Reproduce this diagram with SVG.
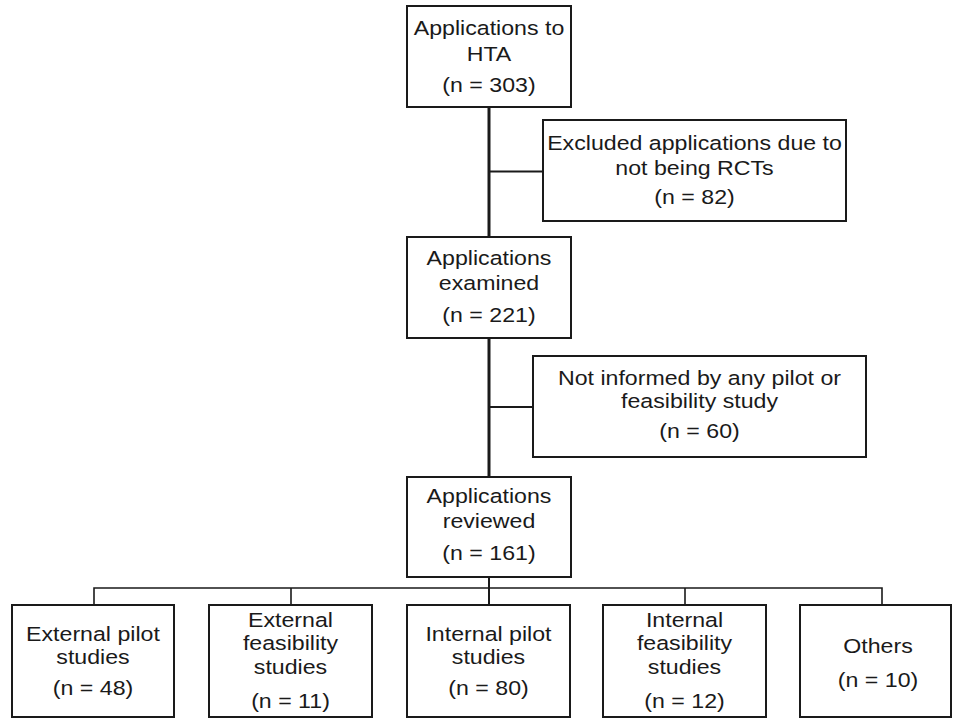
<svg xmlns="http://www.w3.org/2000/svg" width="953" height="719" viewBox="0 0 953 719">
<style>
.box{fill:#fff;stroke:#1a1a1a;stroke-width:2}
.t{font-family:"Liberation Sans",Arial,sans-serif;font-size:20.5px;fill:#1a1a1a;text-anchor:middle}
.main{stroke:#1a1a1a;stroke-width:3;fill:none}
.br{stroke:#1a1a1a;stroke-width:2;fill:none}
.bus{stroke:#1a1a1a;stroke-width:1.6;fill:none}
</style>
<rect width="953" height="719" fill="#fff"/>
<g id="connectors">
<path class="main" d="M489 107V237M489 338V477"/>
<path class="br" d="M489 171.5H543M489 407H533M489 577V605"/>
<path class="bus" d="M94 605V588H882V605M291 588V605M685 588V605"/>
</g>
<g id="n1">
<rect class="box" x="407" y="6" width="164" height="101"/>
<text class="t" transform="translate(489 0) scale(1.13 1)"><tspan x="0" y="35">Applications to</tspan><tspan x="0" y="61">HTA</tspan><tspan x="0" y="92">(n = 303)</tspan></text>
</g>
<g id="n2">
<rect class="box" x="543" y="120" width="303" height="101"/>
<text class="t" transform="translate(694.5 0) scale(1.13 1)"><tspan x="0" y="150">Excluded applications due to</tspan><tspan x="0" y="175">not being RCTs</tspan><tspan x="0" y="204">(n = 82)</tspan></text>
</g>
<g id="n3">
<rect class="box" x="407" y="237" width="164" height="101"/>
<text class="t" transform="translate(489 0) scale(1.13 1)"><tspan x="0" y="265">Applications</tspan><tspan x="0" y="290">examined</tspan><tspan x="0" y="322">(n = 221)</tspan></text>
</g>
<g id="n4">
<rect class="box" x="533" y="356" width="333" height="101"/>
<text class="t" transform="translate(699.5 0) scale(1.13 1)"><tspan x="0" y="385">Not informed by any pilot or</tspan><tspan x="0" y="408">feasibility study</tspan><tspan x="0" y="438">(n = 60)</tspan></text>
</g>
<g id="n5">
<rect class="box" x="407" y="477" width="164" height="100"/>
<text class="t" transform="translate(489 0) scale(1.13 1)"><tspan x="0" y="503">Applications</tspan><tspan x="0" y="528">reviewed</tspan><tspan x="0" y="560">(n = 161)</tspan></text>
</g>
<g id="c1">
<rect class="box" x="12" y="605" width="162" height="112"/>
<text class="t" transform="translate(93 0) scale(1.13 1)"><tspan x="0" y="641">External pilot</tspan><tspan x="0" y="664">studies</tspan><tspan x="0" y="695">(n = 48)</tspan></text>
</g>
<g id="c2">
<rect class="box" x="209" y="605" width="163" height="112"/>
<text class="t" transform="translate(290.5 0) scale(1.13 1)"><tspan x="0" y="627">External</tspan><tspan x="0" y="650">feasibility</tspan><tspan x="0" y="674">studies</tspan><tspan x="0" y="708">(n = 11)</tspan></text>
</g>
<g id="c3">
<rect class="box" x="407" y="605" width="163" height="112"/>
<text class="t" transform="translate(488.5 0) scale(1.13 1)"><tspan x="0" y="641">Internal pilot</tspan><tspan x="0" y="664">studies</tspan><tspan x="0" y="695">(n = 80)</tspan></text>
</g>
<g id="c4">
<rect class="box" x="603" y="605" width="163" height="112"/>
<text class="t" transform="translate(684.5 0) scale(1.13 1)"><tspan x="0" y="627">Internal</tspan><tspan x="0" y="650">feasibility</tspan><tspan x="0" y="674">studies</tspan><tspan x="0" y="708">(n = 12)</tspan></text>
</g>
<g id="c5">
<rect class="box" x="800" y="605" width="151" height="112"/>
<text class="t" transform="translate(878 0) scale(1.13 1)"><tspan x="0" y="653">Others</tspan><tspan x="0" y="687">(n = 10)</tspan></text>
</g>
</svg>
